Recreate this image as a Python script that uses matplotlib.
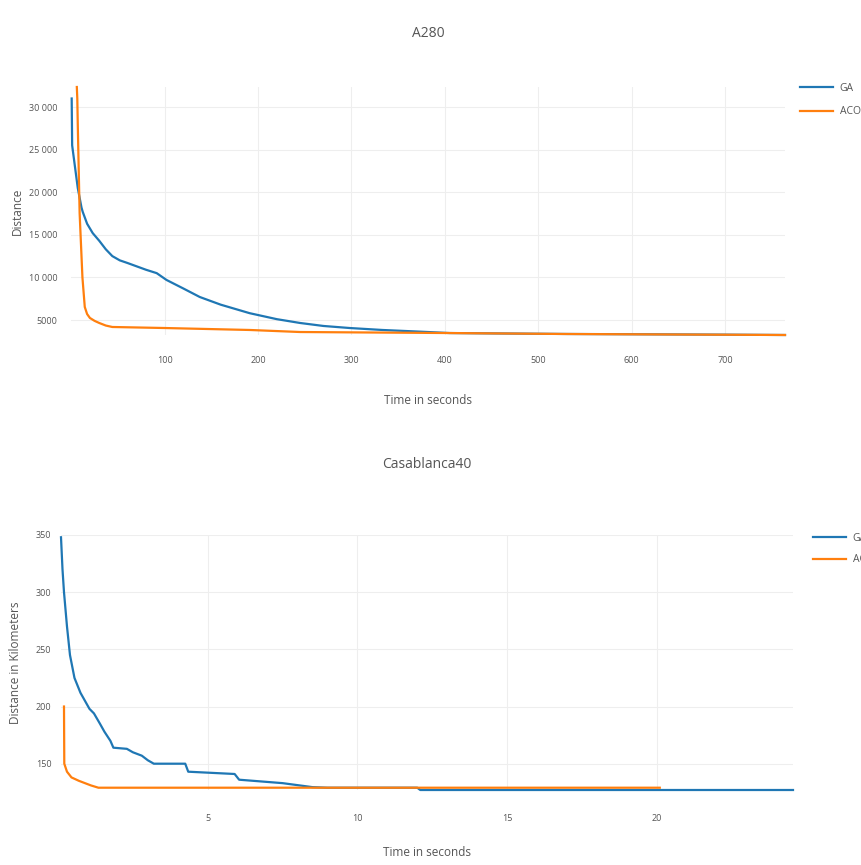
import matplotlib.pyplot as plt
from matplotlib.ticker import FuncFormatter

# A280 (top chart)
a280_ga_t = [0.5, 1, 4, 7, 11, 12.3, 17, 23, 30, 37, 44, 52, 60, 70, 80, 91.5, 102, 120, 137.6,
             160, 191, 220, 245, 270, 298, 333, 370, 405, 460, 531, 620, 700, 764]
a280_ga_d = [31000, 25500, 23000, 20500, 18200, 17700, 16300, 15200, 14300, 13300, 12500, 12000,
             11700, 11300, 10900, 10500, 9700, 8700, 7700, 6800, 5800, 5100, 4650, 4300, 4060,
             3830, 3650, 3470, 3420, 3360, 3320, 3280, 3240]
a280_aco_t = [6, 6.5, 7, 9, 12, 14.5, 17, 20, 25, 30, 37, 44, 100, 191, 245, 405, 526, 764]
a280_aco_d = [32350, 31000, 28000, 17560, 10000, 6530, 5700, 5240, 4900, 4650, 4350, 4180,
              4060, 3830, 3590, 3470, 3360, 3240]

# Casablanca40 (bottom chart)
casa_ga_t = [0.1, 0.15, 0.2, 0.3, 0.4, 0.55, 0.75, 0.9, 1.05, 1.2, 1.4, 1.55, 1.75, 1.85,
             2.3, 2.5, 2.8, 3.0, 3.2, 4.25, 4.35, 5.9, 6.05, 7.5, 8.5, 9, 12, 12.1, 24.55]
casa_ga_d = [348, 320, 300, 270, 245, 225, 212, 205, 198, 194, 185, 178, 170, 164,
             163, 160, 157, 153, 150, 150, 143, 141, 136, 133, 129.5, 129, 129, 127, 127]
casa_aco_t = [0.2, 0.21, 0.3, 0.45, 0.7, 0.9, 1.1, 1.35, 20.1]
casa_aco_d = [200, 150, 143, 138, 135, 133, 131, 129, 129]

BLUE = '#1f77b4'
ORANGE = '#ff7f0e'
TXT = '#555555'

plt.rcParams['font.family'] = ['Open Sans', 'DejaVu Sans']


def plotly_num(v, pos):
    v = int(round(v))
    if abs(v) >= 10000:
        return f"{v:,}".replace(",", " ")
    return str(v)


def style_axes(ax, xpad, ypad):
    for s in ax.spines.values():
        s.set_visible(False)
    ax.grid(True, color='#eeeeee', linewidth=0.8)
    ax.set_axisbelow(True)
    ax.tick_params(length=0, labelsize=6.5, colors=TXT)
    ax.tick_params(axis='x', pad=xpad)
    ax.tick_params(axis='y', pad=ypad)
    ax.margins(0)


fig = plt.figure(figsize=(8.62, 8.65), dpi=100)
W, H = 862, 865

# top
ax1 = fig.add_axes([71.5 / W, 1 - 335 / H, (785 - 71.5) / W, (335 - 87) / H])
ax1.plot(a280_ga_t, a280_ga_d, color=BLUE, lw=1.6, label='GA', clip_on=False)
ax1.plot(a280_aco_t, a280_aco_d, color=ORANGE, lw=1.6, label='ACO', clip_on=False)
style_axes(ax1, 15, 10)
ax1.set_xlim(0.3, 764)
ax1.set_ylim(3240, 32350)
ax1.set_xticks([100, 200, 300, 400, 500, 600, 700])
ax1.set_yticks([5000, 10000, 15000, 20000, 25000, 30000])
ax1.yaxis.set_major_formatter(FuncFormatter(plotly_num))
ax1.set_title('A280', fontsize=10, color=TXT, pad=36)
ax1.set_xlabel('Time in seconds', fontsize=8.5, color=TXT, labelpad=21)
ax1.set_ylabel('Distance', fontsize=8.5, color=TXT, labelpad=4)
ax1.legend(loc='upper left', bbox_to_anchor=(800 / W, 1 - 83 / H), bbox_transform=fig.transFigure,
           frameon=False, fontsize=7.5, handlelength=3.2, labelcolor=TXT,
           labelspacing=1.2, handletextpad=0.6, borderaxespad=0, borderpad=0)

# bottom
ax2 = fig.add_axes([61 / W, 1 - 790 / H, (793 - 61) / W, (790 - 535) / H])
ax2.plot(casa_ga_t, casa_ga_d, color=BLUE, lw=1.6, label='GA', clip_on=False)
ax2.plot(casa_aco_t, casa_aco_d, color=ORANGE, lw=1.6, label='ACO', clip_on=False)
style_axes(ax2, 17, 7)
ax2.set_xlim(0.1, 24.55)
ax2.set_ylim(127, 348)
ax2.set_xticks([5, 10, 15, 20])
ax2.set_yticks([150, 200, 250, 300, 350])
ax2.set_title('Casablanca40', fontsize=10, color=TXT, pad=48)
ax2.set_xlabel('Time in seconds', fontsize=8.5, color=TXT, labelpad=17)
ax2.set_ylabel('Distance in Kilometers', fontsize=8.5, color=TXT, labelpad=10)
ax2.legend(loc='upper left', bbox_to_anchor=(813 / W, 1 - 533 / H), bbox_transform=fig.transFigure,
           frameon=False, fontsize=7.5, handlelength=3.2, labelcolor=TXT,
           labelspacing=1.0, handletextpad=0.6, borderaxespad=0, borderpad=0)

fig.savefig('out.png', dpi=100)
